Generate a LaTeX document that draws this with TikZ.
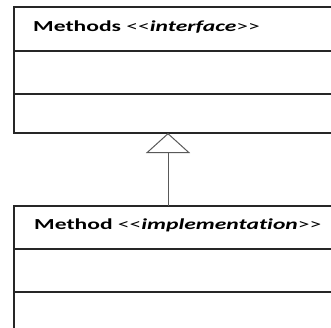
\documentclass[tikz,border=0pt]{standalone}
\usepackage{fontspec}
\setmainfont[Ligatures=NoCommon]{Carlito}
\usetikzlibrary{arrows.meta}
\newcommand{\lt}{{<}\kern0pt{<}}
\newcommand{\gtgt}{{>}\kern0pt{>}}
\begin{document}
\begin{tikzpicture}[x=1pt,y=-1pt,
  comp/.style={draw=black!85, line width=1.1pt, inner sep=0pt, outer sep=0pt, anchor=north west, minimum width=330pt},
  title/.style={anchor=base west, inner sep=0pt, font=\fontsize{15.3}{17}\selectfont, text=black},
  gen/.style={draw=black!65, line width=1pt, -{Triangle[open, width=44pt, length=20pt, fill=white, line width=1pt]}}]
\useasboundingbox (0,0) rectangle (331,327);
\clip (0,0) rectangle (331,327);
\node[comp, minimum height=44pt] (ifaceTitle) at (14,7) {};
\node[comp, minimum height=43pt] (ifaceAttr) at (14,51) {};
\node[comp, minimum height=39pt] (ifaceOps) at (14,94) {};
\node[comp, minimum height=43pt] (implTitle) at (14,206) {};
\node[comp, minimum height=43pt] (implAttr) at (14,249) {};
\node[comp, minimum height=50pt] (implOps) at (14,292) {};
\node[title] (ifaceText) at (33,31.5) {\scalebox{1.54}[1]{\textbf{Methods} \lt\textbf{\textit{interface}}\gtgt}};
\node[title] (implText) at (34,229.7) {\scalebox{1.54}[1]{\textbf{Method} \lt\textbf{\textit{implementation}}\gtgt}};
\coordinate (implTop) at ([xshift=154pt]implTitle.north west);
\coordinate (ifaceBottom) at ([xshift=154pt]ifaceOps.south west);
\draw[gen] (implTop) -- (ifaceBottom);
\end{tikzpicture}
\end{document}
